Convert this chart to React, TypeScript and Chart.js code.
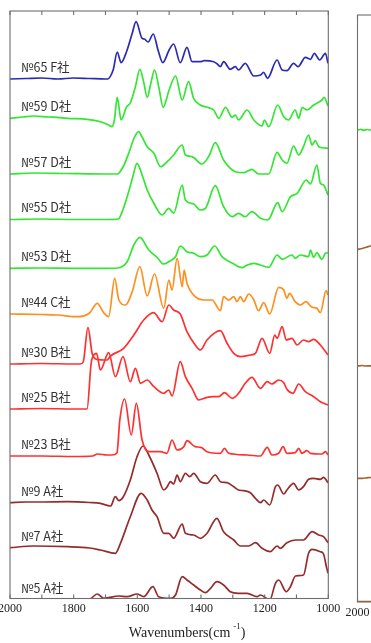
import { useEffect, useRef } from "react";
import { Chart, registerables } from "chart.js";

Chart.register(...registerables);

// Sample labels, stacking offsets and colours, top to bottom
const sampleNames = [
  "№65 F社", "№59 D社", "№57 D社", "№55 D社", "№53 D社", "№44 C社",
  "№30 B社", "№25 B社", "№23 B社", "№9 A社", "№7 A社", "№5 A社",
];
const sampleOffsets = [52.1, 48.2, 42.6, 38.05, 33.17, 28.6, 23.6, 19.1, 14.4, 9.7, 5.2, 0];
const BLUE = "#2b2bb3";
const GREEN = "#33e633";
const ORANGE = "#ff8f1f";
const RED = "#ff3030";
const MAROON = "#952c2c";
const sampleColors = [BLUE, GREEN, GREEN, GREEN, GREEN, ORANGE, RED, RED, RED, MAROON, MAROON, MAROON];

// Spectra: [wavenumber (cm-1), absorbance above the sample's baseline]
const no65: [number, number][] = [
  [2000, 0], [1950, 0.05], [1900, 0.1], [1850, 0], [1800, 0.1], [1750, 0.05], [1700, 0], [1694, 0],
  [1676, 0.9], [1663, 2.7], [1651, 1.63], [1634, 2.73], [1616, 4.57], [1604, 5.73], [1585, 4.07],
  [1578, 4.0], [1566, 3.7], [1550, 4.5], [1535, 2.9], [1520, 1.63], [1500, 2.9], [1486, 3.5],
  [1465, 1.63], [1444, 3.17], [1428, 1.73], [1402, 1.73], [1390, 1.83], [1360, 1.73], [1349, 1.5],
  [1339, 1.23], [1329, 1.73], [1308, 0.97], [1292, 1.23], [1282, 0.9], [1261, 1.57], [1234, 0.3],
  [1213, 0.4], [1203, 0.67], [1191, 0.07], [1161, 1.9], [1145, 0.9], [1130, 0.83], [1109, 1.57],
  [1095, 1.23], [1072, 2.17], [1056, 1.97], [1044, 2.57], [1027, 1.9], [1009, 2.57], [1001, 1.57],
];
const no59: [number, number][] = [
  [2000, -0.03], [1960, 0.1], [1925, 0.2], [1880, 0.1], [1852, 0.07], [1820, -0.03], [1758, -0.13],
  [1716, -0.37], [1690, -0.7], [1680, -0.87], [1672, -0.2], [1663, 2.07], [1651, -0.2], [1634, 1.1],
  [1622, 1.5], [1606, 3.13], [1592, 4.87], [1580, 3.6], [1569, 2.07], [1558, 3.4], [1546, 4.8],
  [1532, 3.0], [1519, 1.07], [1500, 2.8], [1480, 4.2], [1459, 1.8], [1439, 3.63], [1423, 1.97],
  [1402, 1.3], [1381, 1.07], [1360, 0.8], [1344, -0.03], [1323, 1.07], [1302, 0.07], [1292, 0.3],
  [1282, -0.2], [1255, 0.8], [1234, -0.2], [1208, -0.8], [1201, -0.2], [1187, -0.87], [1159, 1.3],
  [1140, 0.13], [1125, -0.2], [1104, 0.8], [1093, -0.03], [1082, 1.07], [1067, 0.8], [1046, 1.3],
  [1020, 1.8], [1013, 2.07], [1001, 1.2],
];
const no57: [number, number][] = [
  [2000, 0], [1925, 0.1], [1820, 0.05], [1700, 0], [1663, 0], [1645, 0.7], [1627, 2.07], [1610, 3.6],
  [1596, 4.23], [1585, 3.7], [1569, 2.73], [1548, 2.07], [1527, 0.73], [1506, 1.23], [1486, 1.9],
  [1459, 2.9], [1449, 1.9], [1428, 1.73], [1397, 1.0], [1375, 1.8], [1355, 3.13], [1329, 1.4],
  [1292, 0.23], [1266, 0.13], [1240, 0.47], [1219, 0], [1187, 0], [1161, 2.17], [1145, 1.4],
  [1130, 1.07], [1109, 2.8], [1093, 1.9], [1078, 2.73], [1062, 3.9], [1051, 2.9], [1041, 3.33],
  [1030, 2.73], [1001, 2.57],
];
const no55: [number, number][] = [
  [2000, 0], [1900, 0.05], [1800, 0], [1700, 0], [1660, 0.05], [1645, 1.0], [1627, 2.8], [1614, 4.3],
  [1601, 5.62], [1585, 4.45], [1569, 2.95], [1548, 1.62], [1522, 0.45], [1501, 1.12], [1486, 0.62],
  [1459, 3.45], [1449, 1.95], [1423, 1.55], [1402, 0.95], [1386, 1.12], [1355, 3.38], [1329, 1.28],
  [1302, 0.28], [1282, 0.62], [1261, 0.28], [1240, 0.78], [1213, 0.12], [1190, -0.05], [1159, 1.68],
  [1145, 0.78], [1119, 2.28], [1098, 2.62], [1069, 3.95], [1056, 3.55], [1036, 5.45], [1025, 3.62],
  [1015, 3.45], [1001, 2.45],
];
const no53: [number, number][] = [
  [2000, 0], [1900, 0.03], [1800, 0], [1700, 0], [1663, 0.03], [1632, 0.66], [1611, 2.33], [1592, 3.1],
  [1564, 1.83], [1538, 1.1], [1517, 0.43], [1496, 0.76], [1480, 1.16], [1465, 2.23], [1444, 1.66],
  [1423, 1.5], [1402, 1.16], [1381, 1.33], [1357, 2.23], [1334, 1.16], [1297, 0.43], [1271, 0.06],
  [1255, 0.33], [1234, 0.5], [1213, 0.33], [1187, 0.1], [1161, 1.33], [1145, 0.9], [1114, 1.33],
  [1104, 1.0], [1088, 1.33], [1062, 1.16], [1056, 1.83], [1046, 1.1], [1036, 1.56], [1020, 0.9],
  [1009, 1.5], [1001, 1.56],
];
const no44: [number, number][] = [
  [2000, 0], [1900, -0.05], [1850, -0.1], [1789, -0.27], [1750, 0.1], [1726, 1.07], [1705, 0.1],
  [1690, -0.27], [1671, 3.57], [1658, 1.4], [1637, 0.9], [1616, 2.23], [1592, 4.73], [1569, 1.8],
  [1546, 4.0], [1517, 0.57], [1501, 3.4], [1491, 2.4], [1475, 5.57], [1459, 2.73], [1453, 4.4],
  [1444, 3.07], [1418, 1.73], [1391, 1.4], [1365, 1.4], [1339, 0.33], [1329, 1.73], [1313, 1.4],
  [1297, 1.73], [1287, 1.23], [1276, 1.73], [1266, 1.23], [1250, 2.0], [1234, 1.4], [1219, 0.33],
  [1203, 1.13], [1184, 0], [1156, 2.67], [1140, 2.4], [1130, 1.57], [1122, 2.07], [1104, 1.23],
  [1088, 0.9], [1070, 1.23], [1051, 0.67], [1036, 0.57], [1025, 0.13], [1007, 2.33], [1001, 1.9],
];
const no30: [number, number][] = [
  [2000, 0], [1900, 0.05], [1800, 0], [1779, 0], [1770, 0.2], [1755, 3.67], [1742, 1.07], [1728, 0.47],
  [1695, 0.4], [1684, 0.8], [1643, 1.57], [1611, 2.9], [1580, 4.4], [1549, 5.13], [1522, 4.23],
  [1501, 5.9], [1486, 5.4], [1465, 5.0], [1444, 3.23], [1418, 1.9], [1402, 1.4], [1381, 2.4],
  [1339, 3.33], [1318, 2.07], [1297, 1.07], [1276, 0.73], [1245, 0.9], [1229, 1.07], [1208, 2.57],
  [1184, 1.07], [1168, 2.9], [1161, 2.57], [1145, 3.73], [1132, 2.4], [1114, 2.57], [1098, 1.9],
  [1078, 2.4], [1062, 2.23], [1046, 2.47], [1025, 1.9], [1001, 0.9],
];
const no25: [number, number][] = [
  [2000, 0], [1900, 0.05], [1800, 0], [1758, 0], [1745, 4.6], [1740, 5.23], [1728, 5.57], [1716, 3.9],
  [1690, 5.63], [1669, 3.23], [1645, 5.23], [1622, 2.73], [1606, 4.07], [1590, 2.57], [1569, 2.9],
  [1548, 2.23], [1517, 1.57], [1501, 1.9], [1491, 1.3], [1465, 4.73], [1449, 3.23], [1428, 2.07],
  [1407, 0.9], [1381, 1.17], [1360, 1.23], [1344, 1.23], [1326, 1.63], [1302, 1.07], [1282, 1.57],
  [1261, 2.57], [1240, 3.17], [1213, 2.07], [1192, 2.73], [1177, 2.5], [1156, 2.9], [1140, 2.63],
  [1130, 1.97], [1111, 1.57], [1093, 2.5], [1072, 1.73], [1046, 1.23], [1025, 0.73], [1001, 0.4],
];
const no23: [number, number][] = [
  [2000, 0], [1900, 0], [1800, -0.05], [1740, 0], [1726, 0.2], [1695, 0.1], [1680, 0.1], [1664, 0.3],
  [1655, 3.6], [1640, 5.7], [1619, 2.1], [1603, 5.27], [1585, 1.6], [1564, 0.43], [1527, 0.43],
  [1507, 0.27], [1491, 1.6], [1475, 0.6], [1454, 0.93], [1444, 1.53], [1418, 0.93], [1400, 0.87],
  [1381, 0.43], [1339, 0.27], [1326, 0.77], [1313, 0.27], [1255, 0.1], [1213, 0], [1192, 0.87],
  [1177, 0.1], [1156, 0.27], [1142, 0.93], [1130, 0.27], [1104, 0.33], [1093, 0.77], [1083, 0.27],
  [1067, 0.53], [1056, 0.27], [1020, 0.2], [1009, 0.43], [1001, 0.1],
];
const no9: [number, number][] = [
  [2000, 0.03], [1950, 0.1], [1900, 0.1], [1820, 0.13], [1750, 0.05], [1716, -0.03], [1684, -0.3],
  [1669, 0.63], [1658, 0.23], [1645, 0.57], [1622, 2.3], [1601, 4.63], [1582, 5.7], [1564, 4.8],
  [1538, 2.97], [1517, 1.3], [1506, 1.63], [1496, 2.13], [1486, 1.9], [1475, 2.8], [1465, 2.13],
  [1449, 2.97], [1435, 2.63], [1423, 2.97], [1402, 2.13], [1381, 1.97], [1355, 2.8], [1339, 2.13],
  [1318, 2.03], [1297, 1.63], [1282, 1.3], [1266, 1.23], [1245, 1.03], [1229, 0.47], [1213, 0.03],
  [1203, 0.3], [1184, -0.2], [1166, 1.63], [1159, 1.8], [1140, 0.9], [1130, 1.3], [1109, 1.97],
  [1093, 1.3], [1078, 1.63], [1062, 2.37], [1046, 2.47], [1025, 2.37], [1015, 2.57], [1001, 2.03],
];
const no7: [number, number][] = [
  [2000, 0.03], [1925, 0.2], [1820, 0.13], [1750, 0], [1716, -0.2], [1669, -0.53], [1653, 0.47],
  [1622, 3.13], [1588, 5.47], [1569, 4.8], [1554, 3.8], [1538, 3.13], [1517, 1.47], [1501, 1.47],
  [1486, 0.97], [1459, 2.4], [1449, 1.47], [1423, 1.3], [1402, 0.97], [1381, 1.47], [1350, 2.97],
  [1329, 1.63], [1297, 0.8], [1276, 0.2], [1250, 0.2], [1229, 0.53], [1208, -0.03], [1182, -0.37],
  [1161, 0.2], [1151, -0.03], [1130, 0.53], [1103, 0.8], [1078, 0.8], [1051, 1.63], [1030, 1.3],
  [1015, 1.13], [1001, 0.53],
];
const no5: [number, number][] = [
  [2000, 0.07], [1900, 0.05], [1800, 0.07], [1750, 0.1], [1726, 0.6], [1705, 0.17], [1658, 0.4],
  [1632, 0.33], [1601, 0.6], [1580, 0.33], [1551, 1.33], [1533, 0.33], [1496, 0.17], [1480, 0.5],
  [1459, 2.33], [1444, 2.0], [1423, 1.5], [1402, 1.0], [1386, 0.73], [1370, 1.17], [1350, 1.83],
  [1329, 1.5], [1308, 0.83], [1282, 0.67], [1255, 0.67], [1224, 0.33], [1213, 0.5], [1184, 0],
  [1166, 1.67], [1156, 2.0], [1132, 0.83], [1119, 1.33], [1103, 2.4], [1078, 2.5], [1062, 4.67],
  [1051, 5.07], [1025, 4.83], [1015, 4.6], [1006, 3.33], [1001, 2.67],
];
const spectra = [no65, no59, no57, no55, no53, no44, no30, no25, no23, no9, no7, no5];

// Neighbouring panel (only its left edge is in view)
const sideOffsets = [47.2, 35.25, 23.6, 12.37, 0.03];
const BROWN = "#a6622b";
const sideColors = [GREEN, BROWN, BROWN, BROWN, BROWN];
const side1: [number, number][] = [[2000, 0], [1990, 0.06], [1980, -0.03], [1970, 0.05], [1960, 0], [1900, 0.02]];
const side2: [number, number][] = [[2000, 0], [1985, 0.1], [1970, 0.25], [1960, 0.35], [1900, 0.35]];
const side3: [number, number][] = [[2000, 0], [1985, 0.05], [1975, 0], [1960, 0.02], [1900, 0]];
const side4: [number, number][] = [[2000, 0], [1985, 0], [1970, 0.05], [1960, 0.08], [1900, 0.05]];
const side5: [number, number][] = [[2000, 0], [1960, 0], [1900, 0]];
const sideSpectra = [side1, side2, side3, side4, side5];

const minorTicks = [2000, 1900, 1800, 1700, 1600, 1500, 1400, 1300, 1200, 1100, 1000];
const tickLabels = [2000, 1800, 1600, 1400, 1200, 1000];
const axisTitle = "Wavenumbers(cm";
const axisTitleSup = "-1";

const SERIF = '"Liberation Serif", "Times New Roman", serif';
const SANS = '"Noto Sans CJK JP", "Noto Sans", sans-serif';

const framePlugin = {
  id: "spectrumFrame",
  afterDraw(chart: any, _args: any, opts: any) {
    const { ctx, chartArea: a, scales } = chart;
    const xs = scales.x;
    const ys = scales.y;
    ctx.save();

    // sample names
    if (opts.names) {
      ctx.font = `12.5px ${SANS}`;
      ctx.fillStyle = "#333";
      ctx.textAlign = "left";
      ctx.textBaseline = "middle";
      opts.names.forEach((n: string, i: number) => {
        ctx.fillText(n, a.left + 11, ys.getPixelForValue(opts.offsets[i]) - 12);
      });
    }

    // frame
    ctx.strokeStyle = "#6e6e6e";
    ctx.lineWidth = 1.1;
    ctx.strokeRect(a.left, a.top, a.right - a.left, a.bottom - a.top);

    // inward ticks on top and bottom
    ctx.beginPath();
    for (const t of minorTicks) {
      const px = xs.getPixelForValue(t);
      ctx.moveTo(px, a.top);
      ctx.lineTo(px, a.top + 4);
      ctx.moveTo(px, a.bottom);
      ctx.lineTo(px, a.bottom - 4);
    }
    ctx.stroke();

    // tick labels
    ctx.font = `12px ${SERIF}`;
    ctx.fillStyle = "#222";
    ctx.textAlign = "center";
    ctx.textBaseline = "alphabetic";
    for (const t of tickLabels) {
      ctx.fillText(String(t), xs.getPixelForValue(t), a.bottom + 13.5);
    }

    // axis title with superscript
    if (opts.title) {
      ctx.font = `14px ${SERIF}`;
      const w1 = ctx.measureText(axisTitle).width;
      ctx.font = `9px ${SERIF}`;
      const w2 = ctx.measureText(axisTitleSup).width;
      ctx.font = `14px ${SERIF}`;
      const w3 = ctx.measureText(")").width;
      const total = w1 + 3 + w2 + w3;
      const cx = (a.left + a.right) / 2 + 18;
      let x0 = cx - total / 2;
      const base = a.bottom + 38.5;
      ctx.textAlign = "left";
      ctx.fillText(axisTitle, x0, base);
      x0 += w1 + 3;
      ctx.font = `9px ${SERIF}`;
      ctx.fillText(axisTitleSup, x0, base - 8);
      x0 += w2;
      ctx.font = `14px ${SERIF}`;
      ctx.fillText(")", x0, base);
    }
    ctx.restore();
  },
};

function makeConfig(
  sets: [number, number][][],
  offsets: number[],
  colors: string[],
  padding: any,
  yMin: number,
  yMax: number,
  frameOpts: any
): any {
  return {
    type: "line",
    data: {
      datasets: sets.map((s, i) => ({
        data: s.map(([w, v]) => ({ x: w, y: v + offsets[i] })),
        borderColor: colors[i],
        backgroundColor: colors[i],
        borderWidth: 1.7,
        pointRadius: 0,
        cubicInterpolationMode: "monotone",
        fill: false,
      })),
    },
    options: {
      responsive: false,
      maintainAspectRatio: false,
      animation: false,
      layout: { padding },
      scales: {
        x: { type: "linear", reverse: true, min: 1000, max: 2000, display: false },
        y: { type: "linear", min: yMin, max: yMax, display: false },
      },
      plugins: {
        legend: { display: false },
        tooltip: { enabled: false },
        spectrumFrame: frameOpts,
      },
    },
    plugins: [framePlugin],
  };
}

export default function App() {
  const mainRef = useRef<HTMLCanvasElement>(null);
  const sideRef = useRef<HTMLCanvasElement>(null);

  useEffect(() => {
    const main = new Chart(
      mainRef.current!,
      makeConfig(
        spectra,
        sampleOffsets,
        sampleColors,
        { left: 10, top: 11, right: 42.7, bottom: 44.5 },
        0.15,
        58.9,
        { names: sampleNames, offsets: sampleOffsets, title: true }
      )
    );
    const side = new Chart(
      sideRef.current!,
      makeConfig(
        sideSpectra,
        sideOffsets,
        sideColors,
        { left: 17.5, top: 15, right: 44.2, bottom: 41 },
        0,
        58.7,
        { title: false }
      )
    );
    return () => {
      main.destroy();
      side.destroy();
    };
  }, []);

  return (
    <div
      style={{
        position: "fixed",
        left: 0,
        top: 0,
        width: 371,
        height: 643,
        overflow: "hidden",
        background: "#fff",
      }}
    >
      <canvas ref={mainRef} width={371} height={643} style={{ position: "absolute", left: 0, top: 0 }} />
      <canvas ref={sideRef} width={380} height={643} style={{ position: "absolute", left: 340, top: 0 }} />
    </div>
  );
}
